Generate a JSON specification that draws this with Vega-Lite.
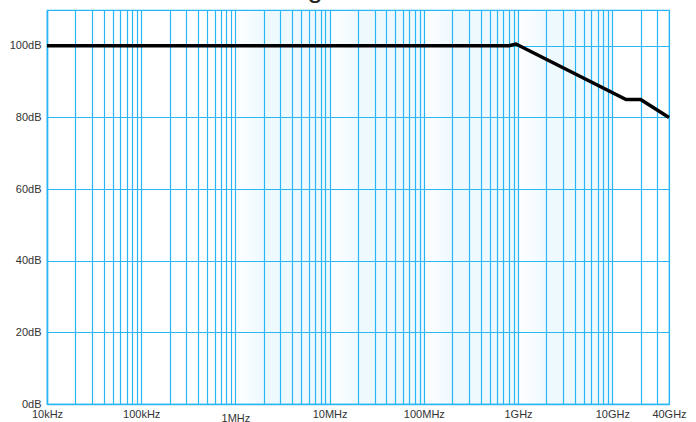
{
  "$schema": "https://vega.github.io/schema/vega-lite/v6.json",
  "width": 622,
  "height": 394,
  "autosize": {"type": "none"},
  "padding": {"left": 47, "top": 10, "right": 27, "bottom": 18},
  "background": "white",
  "title": {
    "text": "Shielding Effectiveness",
    "font": "Liberation Sans",
    "fontSize": 28,
    "fontWeight": "normal",
    "color": "#222222",
    "baseline": "alphabetic",
    "offset": 0,
    "anchor": "middle",
    "frame": "group",
    "dx": -6,
    "dy": 14.5
  },
  "config": {
    "view": {"stroke": "#29b6f6", "strokeWidth": 1.2},
    "font": "Liberation Sans"
  },
  "datasets": {
    "bands": [
      {"f1": 1000000, "f2": 10000000},
      {"f1": 10000000, "f2": 100000000},
      {"f1": 100000000, "f2": 1000000000},
      {"f1": 1000000000, "f2": 10000000000}
    ],
    "se": [
      {"freq": 10000, "db": 100},
      {"freq": 800000000, "db": 100},
      {"freq": 950000000, "db": 100.5},
      {"freq": 14000000000, "db": 85},
      {"freq": 20000000000, "db": 85},
      {"freq": 40000000000, "db": 80}
    ]
  },
  "layer": [
    {
      "data": {"name": "bands"},
      "mark": {
        "type": "rect",
        "fill": {
          "gradient": "linear",
          "x1": 0, "y1": 0, "x2": 0.3, "y2": 0,
          "stops": [
            {"offset": 0, "color": "rgba(41,182,246,0)"},
            {"offset": 1, "color": "rgba(41,182,246,0.08)"}
          ]
        }
      },
      "encoding": {
        "x": {"field": "f1", "type": "quantitative", "scale": {"type": "log", "domain": [10000, 40000000000], "nice": false}},
        "x2": {"field": "f2"},
        "y": {"datum": 0, "type": "quantitative", "scale": {"domain": [0, 110], "nice": false}},
        "y2": {"datum": 110}
      }
    },
    {
      "data": {"name": "se"},
      "mark": {"type": "line", "color": "#000000", "strokeWidth": 3.5, "strokeJoin": "miter"},
      "encoding": {
        "x": {
          "field": "freq",
          "type": "quantitative",
          "scale": {"type": "log", "domain": [10000, 40000000000], "nice": false},
          "axis": {
            "title": null,
            "values": [10000,20000,30000,40000,50000,60000,70000,80000,90000,
                       100000,200000,300000,400000,500000,600000,700000,800000,900000,
                       1000000,2000000,3000000,4000000,5000000,6000000,7000000,8000000,9000000,
                       10000000,20000000,30000000,40000000,50000000,60000000,70000000,80000000,90000000,
                       100000000,200000000,300000000,400000000,500000000,600000000,700000000,800000000,900000000,
                       1000000000,2000000000,3000000000,4000000000,5000000000,6000000000,7000000000,8000000000,9000000000,
                       10000000000,20000000000,30000000000,40000000000],
            "labelExpr": "datum.value==10000?'10kHz':datum.value==100000?'100kHz':datum.value==1000000?'1MHz':datum.value==10000000?'10MHz':datum.value==100000000?'100MHz':datum.value==1000000000?'1GHz':datum.value==10000000000?'10GHz':datum.value==40000000000?'40GHz':''",
            "labelOverlap": false,
            "labelFlush": false,
            "labelFont": "Liberation Sans",
            "labelFontSize": 11,
            "labelColor": "#333333",
            "labelPadding": {"condition": {"test": "datum.value == 1000000", "value": 8}, "value": 4},
            "ticks": false,
            "grid": true,
            "gridColor": "#29b6f6",
            "gridWidth": 1.2,
            "gridOpacity": 1,
            "domainColor": "#29b6f6",
            "domainWidth": 1.5
          }
        },
        "y": {
          "field": "db",
          "type": "quantitative",
          "scale": {"domain": [0, 110], "nice": false},
          "axis": {
            "title": null,
            "values": [0,10,20,30,40,50,60,70,80,90,100,110],
            "labelExpr": "(datum.value % 20 == 0 && datum.value <= 100) ? datum.value + 'dB' : ''",
            "labelFont": "Liberation Sans",
            "labelFontSize": 11,
            "labelColor": "#333333",
            "labelPadding": 6,
            "ticks": false,
            "grid": true,
            "gridColor": "#29b6f6",
            "gridWidth": 1.2,
            "gridOpacity": 1,
            "domainColor": "#29b6f6",
            "domainWidth": 1.5
          }
        }
      }
    }
  ]
}
